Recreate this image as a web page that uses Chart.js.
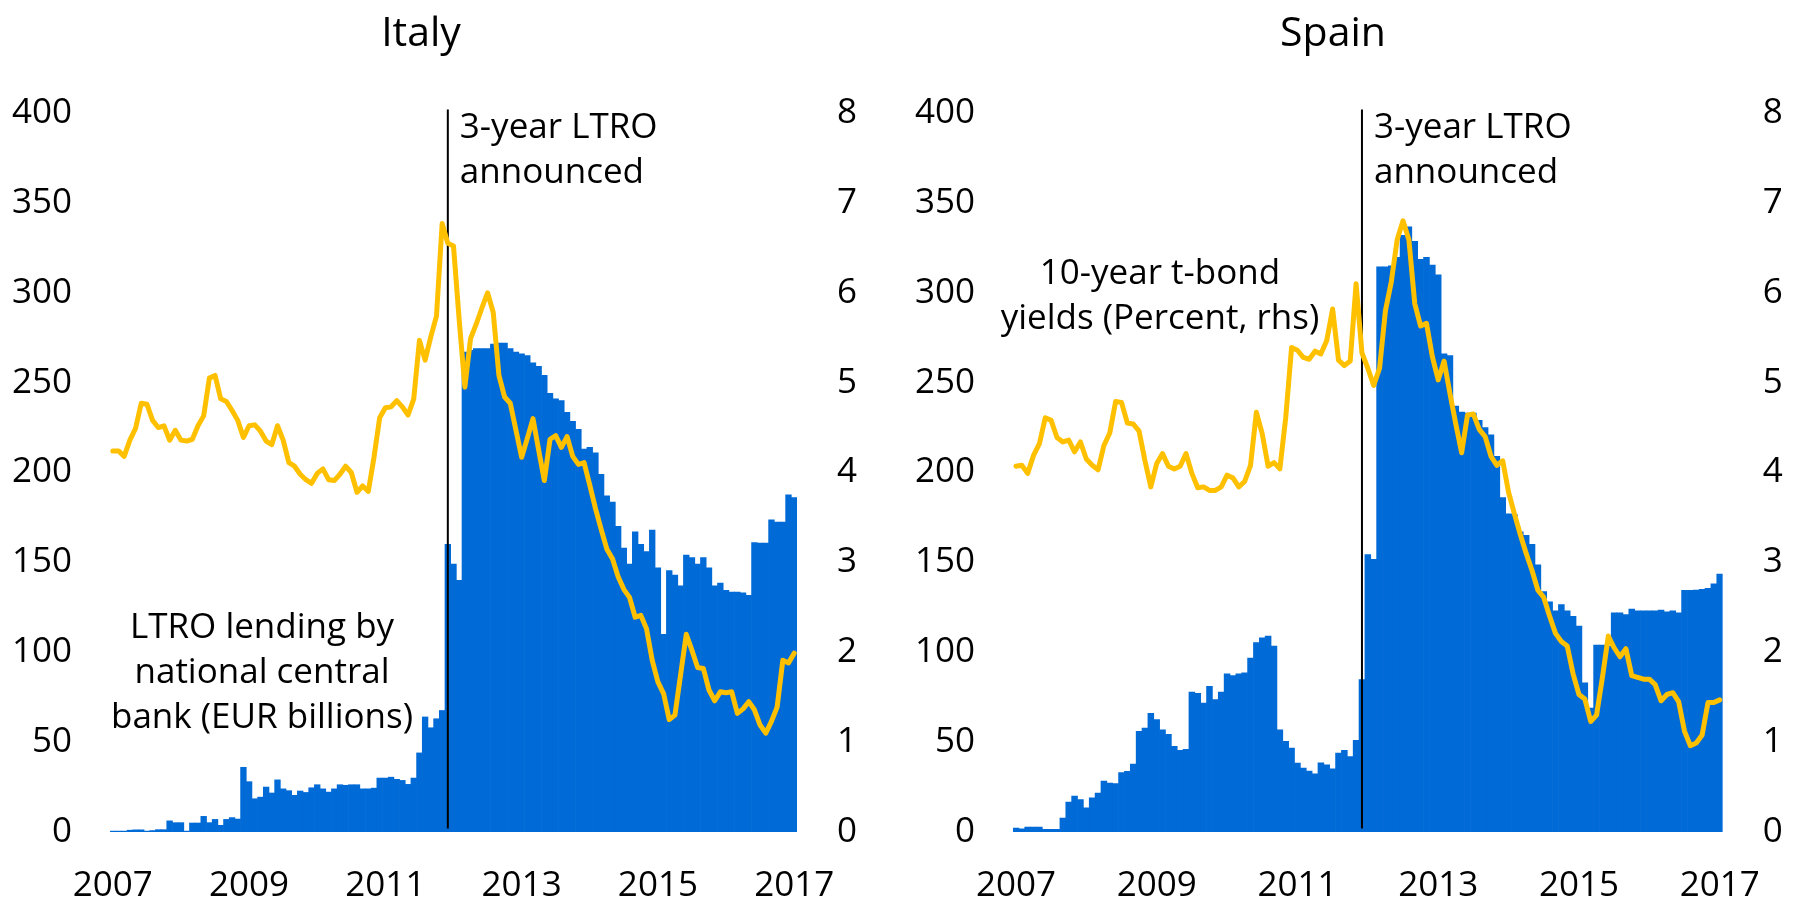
<!DOCTYPE html>
<html><head><meta charset="utf-8">
<script src="https://cdn.jsdelivr.net/npm/chart.js@4.4.1/dist/chart.umd.min.js"></script>
<style>
html,body{margin:0;padding:0;background:#fff;}
#wrap{position:relative;width:1793px;height:905px;overflow:hidden;background:#fff;}
.box{position:absolute;top:0;height:905px;}
</style></head><body>
<div id="wrap">
  <div class="box" style="left:0;width:880px"><canvas id="c1"></canvas></div>
  <div class="box" style="left:880px;width:913px"><canvas id="c2"></canvas></div>
</div>
<script>
// ---- categories (monthly, Jan 2007 .. Jan 2017) ----
const years = [2007,2008,2009,2010,2011,2012,2013,2014,2015,2016,2017];
const monthNums = ['01','02','03','04','05','06','07','08','09','10','11','12'];
const months = [];
years.forEach(y => monthNums.forEach(m => { if (y < 2017 || m === '01') months.push(y + '-' + m); }));
const yearTickLabels = ['2007','2009','2011','2013','2015','2017'];
const leftTicks = [0,50,100,150,200,250,300,350,400];
const rightTicks = [0,1,2,3,4,5,6,7,8];

// ---- Italy ----
const italyLTRO = [0.5,0.5,0.5,1.0,1.2,1.2,0.5,0.8,1.3,1.3,
 6.2,5.2,5.2,0.5,5,5,8.7,5.2,7,3.7,
 7,8,7.2,36,28,18.5,19.4,25,21.7,29,
 24,23,20.4,22.8,22,24.6,26.3,24,22.2,24,
 26.3,26,26.3,26.3,24,24,24.4,30,30,30.5,
 29.3,28.7,26.5,30,44,64,58,63,67.6,160,
 149,140,267,268,269,269,269,271.5,272,272,
 269,267,266,265,261,259,254,244,241,240,
 233.5,228.5,224,213,214,211,199,187,183.5,170,
 158,149,167,160,156,168,147,110,145.5,143,
 137,154,152.6,149,152.6,147,137,138.5,134.4,133.5,
 133.5,133,131.7,161,160.7,160.7,173.7,172.4,172.4,187.6,186];
const italyYield = [4.24,4.24,4.18,4.36,4.49,4.77,4.76,4.58,4.50,4.52,
 4.36,4.47,4.36,4.35,4.37,4.52,4.63,5.05,5.08,4.82,
 4.79,4.69,4.58,4.39,4.52,4.53,4.46,4.35,4.31,4.52,
 4.36,4.11,4.07,3.98,3.92,3.88,3.99,4.04,3.92,3.91,
 3.98,4.07,4.00,3.78,3.85,3.79,4.17,4.61,4.72,4.73,
 4.80,4.73,4.64,4.82,5.47,5.25,5.51,5.74,6.77,6.55,
 6.52,5.70,4.95,5.49,5.65,5.83,6.00,5.78,5.08,4.84,
 4.77,4.47,4.17,4.38,4.60,4.25,3.91,4.37,4.41,4.28,
 4.40,4.18,4.09,4.11,3.86,3.60,3.37,3.15,3.04,2.84,
 2.70,2.61,2.39,2.41,2.26,1.91,1.67,1.54,1.25,1.30,
 1.75,2.20,2.02,1.83,1.82,1.58,1.46,1.56,1.55,1.56,
 1.32,1.37,1.45,1.36,1.19,1.10,1.23,1.39,1.91,1.88,1.99];

// ---- Spain ----
const spainLTRO = [2.2,1.7,2.8,2.8,2.8,1.5,1.5,1.5,7.8,16.7,
 20,18,13.5,19,21.7,28.3,27.2,26.9,33,33.7,
 37.8,56,57.8,66,62.6,56.9,54.3,47.6,45.4,46,
 77.8,77.2,71.7,81,73.7,77.8,88,87,88,88.5,
 96.7,105.4,108,109,103.5,56.9,50.4,46.7,38.3,35.6,
 33.9,32.4,38.5,37.4,35.2,43.9,45.4,42,51,84.8,
 154.3,151.7,314.4,314.4,315,319.7,332,336.7,328.6,318.6,
 319.7,315.4,310,266,265,237,233.6,233,233,229,
 225,221,209,186,177,176.6,167,165,160,148.6,
 133.7,128,123,126.5,123,120,114.5,83,69,104,
 104,103.5,122,122,121,124,123,123,123,123,
 123.5,122.5,123,122,134.5,134.5,134.6,135,135.5,138,143.5];
const spainYield = [4.07,4.08,3.99,4.19,4.32,4.61,4.58,4.39,4.34,4.36,
 4.23,4.34,4.15,4.08,4.03,4.30,4.44,4.79,4.78,4.55,
 4.54,4.46,4.13,3.84,4.10,4.21,4.07,4.04,4.07,4.21,
 3.99,3.83,3.84,3.80,3.80,3.84,3.97,3.94,3.84,3.90,
 4.08,4.67,4.43,4.07,4.11,4.04,4.61,5.39,5.36,5.28,
 5.26,5.35,5.32,5.47,5.82,5.25,5.19,5.24,6.10,5.33,
 5.16,4.97,5.16,5.80,6.12,6.59,6.80,6.59,5.88,5.63,
 5.66,5.29,5.03,5.24,4.88,4.54,4.22,4.64,4.65,4.48,
 4.40,4.18,4.08,4.13,3.78,3.54,3.31,3.10,2.91,2.69,
 2.61,2.40,2.21,2.12,2.07,1.76,1.53,1.48,1.23,1.30,
 1.72,2.18,2.05,1.95,2.04,1.74,1.72,1.70,1.70,1.64,
 1.46,1.53,1.55,1.45,1.12,0.96,0.99,1.08,1.44,1.44,1.47];

const ltroMonth = '2011-12';

const FONT = "'Open Sans', 'Noto Sans', sans-serif";
const BAR = '#006AD6';
const LINE = '#FFC000';
Chart.defaults.font.family = FONT;
Chart.defaults.color = '#000';

function makeChart(id, title, bars, yields, geo) {
  const annot = {
    id: 'annot_' + id,
    afterDatasetDraw(chart, args) {
      if (args.meta.type !== 'bar') return;
      const ctx = chart.ctx;
      const x = chart.scales.x.getPixelForValue(months.indexOf(ltroMonth));
      const ys = chart.scales.y;
      ctx.save();
      ctx.strokeStyle = '#000';
      ctx.lineWidth = 2;
      ctx.beginPath();
      ctx.moveTo(x, ys.getPixelForValue(402));
      ctx.lineTo(x, ys.getPixelForValue(2));
      ctx.stroke();
      ctx.restore();
    },
    afterDraw(chart) {
      const ctx = chart.ctx;
      const x = chart.scales.x.getPixelForValue(months.indexOf(ltroMonth));
      ctx.save();
      ctx.fillStyle = '#000';
      ctx.textBaseline = 'alphabetic';
      ctx.font = '41px ' + FONT;
      ctx.textAlign = 'center';
      ctx.fillText(title, geo.titleX, 46);
      ctx.font = '35px ' + FONT;
      ctx.textAlign = 'left';
      ctx.fillText('3-year LTRO', x + 12, 138);
      ctx.fillText('announced', x + 12, 183);
      ctx.textAlign = 'center';
      geo.notes.forEach(n => ctx.fillText(n.t, n.x, n.y));
      ctx.restore();
    }
  };
  return new Chart(document.getElementById(id), {
    data: {
      labels: months,
      datasets: [
        { type: 'line', label: '10-year t-bond yields', data: yields, yAxisID: 'y1',
          borderColor: LINE, borderWidth: 5, pointRadius: 0, tension: 0,
          borderJoinStyle: 'round', borderCapStyle: 'round', order: 0 },
        { type: 'bar', label: 'LTRO lending', data: bars, yAxisID: 'y',
          backgroundColor: BAR, borderWidth: 0, barPercentage: 1, categoryPercentage: 1, order: 1 }
      ]
    },
    plugins: [annot],
    options: {
      responsive: true, maintainAspectRatio: false, animation: false,
      layout: { padding: { top: 113, left: 0, right: 0, bottom: 0 } },
      plugins: { legend: { display: false }, tooltip: { enabled: false }, title: { display: false } },
      scales: {
        x: {
          type: 'category', offset: true,
          grid: { display: false, drawTicks: false }, border: { display: false },
          afterFit(s) { s.height = 73; },
          ticks: {
            autoSkip: false, maxRotation: 0, minRotation: 0, padding: 33,
            font: { size: 35 }, color: '#000',
            callback(v, i) {
              const lab = months[i];
              const yr = lab.slice(0, 4);
              return (lab.endsWith('-01') && yearTickLabels.includes(yr)) ? yr : '';
            }
          }
        },
        y: {
          position: 'left', min: 0, max: 400,
          grid: { display: false, drawTicks: false }, border: { display: false },
          afterFit(s) { s.width = geo.leftW; },
          afterBuildTicks(s) { s.ticks = leftTicks.map(v => ({ value: v })); },
          ticks: { padding: 38, font: { size: 35 }, color: '#000' }
        },
        y1: {
          position: 'right', min: 0, max: 8,
          grid: { display: false, drawTicks: false }, border: { display: false },
          afterFit(s) { s.width = geo.rightW; },
          afterBuildTicks(s) { s.ticks = rightTicks.map(v => ({ value: v })); },
          ticks: { padding: 40, font: { size: 35 }, color: '#000' }
        }
      }
    }
  });
}

makeChart('c1', 'Italy', italyLTRO, italyYield, {
  leftW: 110, rightW: 83, titleX: 421,
  notes: [
    { t: 'LTRO lending by', x: 262, y: 638 },
    { t: 'national central', x: 262, y: 683 },
    { t: 'bank (EUR billions)', x: 262, y: 728 }
  ]
});
makeChart('c2', 'Spain', spainLTRO, spainYield, {
  leftW: 133, rightW: 62, titleX: 453,
  notes: [
    { t: '10-year t-bond', x: 280, y: 284 },
    { t: 'yields (Percent, rhs)', x: 280, y: 329 }
  ]
});
</script>
</body></html>
